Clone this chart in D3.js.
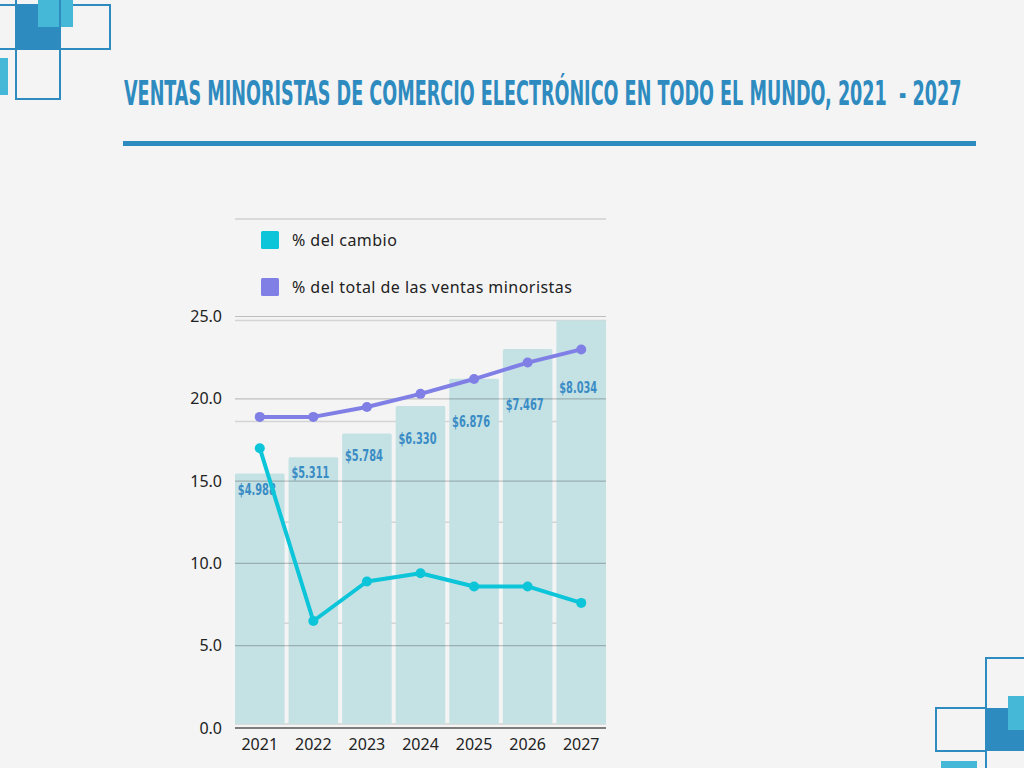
<!DOCTYPE html>
<html>
<head>
<meta charset="utf-8">
<script src="https://cdn.jsdelivr.net/npm/d3@7"></script>
<style>
  body { margin: 0; background: #f4f4f4; }
  svg { display: block; }
</style>
</head>
<body>
<div id="chart"></div>
<script>
const years = ['2021', '2022', '2023', '2024', '2025', '2026', '2027']
const sales = [4.988, 5.311, 5.784, 6.330, 6.876, 7.467, 8.034]
const salesLabels = ['$4.988', '$5.311', '$5.784', '$6.330', '$6.876', '$7.467', '$8.034']
const pctChange = [17.0, 6.5, 8.9, 9.4, 8.6, 8.6, 7.6]
const pctTotal = [18.9, 18.9, 19.5, 20.3, 21.2, 22.2, 23.0]
const yTicks = [0, 5, 10, 15, 20, 25]
const legendItems = [
  { name: '% del cambio', color: '#0cc5d9' },
  { name: '% del total de las ventas minoristas', color: '#7f7fe6' }
]

const width = 1024
const height = 768
const blue = '#2e8bc0'
const cyan = '#45b8d8'
const narrow = '"Liberation Sans Narrow", "DejaVu Sans Condensed", sans-serif'

const svg = d3.select('#chart').append('svg')
  .attr('width', width)
  .attr('height', height)
  .style('background', '#f4f4f4')

// squeeze a text horizontally to a target width (keeps its real bbox)
function squeeze(sel, targetW) {
  sel.each(function () {
    const t = d3.select(this)
    const w = this.getComputedTextLength()
    const base = t.attr('transform') || ''
    t.attr('transform', `${base} scale(${targetW / w}, 1)`)
  })
}

// corner decorations
const deco = svg.append('g')
deco.append('rect').attr('x', -10).attr('y', 5).attr('width', 120).attr('height', 44)
  .attr('fill', 'none').attr('stroke', blue).attr('stroke-width', 2)
deco.append('rect').attr('x', 16).attr('y', 5).attr('width', 44).attr('height', 44).attr('fill', blue)
deco.append('rect').attr('x', 38).attr('y', -2).attr('width', 35).attr('height', 29).attr('fill', cyan)
deco.append('rect').attr('x', 16).attr('y', -10).attr('width', 44).attr('height', 109)
  .attr('fill', 'none').attr('stroke', blue).attr('stroke-width', 2)
deco.append('rect').attr('x', -2).attr('y', 58).attr('width', 10).attr('height', 37).attr('fill', cyan)

deco.append('rect').attr('x', 986).attr('y', 658).attr('width', 60).attr('height', 130)
  .attr('fill', 'none').attr('stroke', blue).attr('stroke-width', 2)
deco.append('rect').attr('x', 936).attr('y', 708).attr('width', 50).attr('height', 43)
  .attr('fill', 'none').attr('stroke', blue).attr('stroke-width', 2)
deco.append('rect').attr('x', 986).attr('y', 708).attr('width', 40).attr('height', 43).attr('fill', blue)
deco.append('rect').attr('x', 1008).attr('y', 696).attr('width', 20).attr('height', 34).attr('fill', cyan)
deco.append('rect').attr('x', 941).attr('y', 761).attr('width', 36).attr('height', 10).attr('fill', cyan)

// title
svg.append('text')
  .attr('transform', 'translate(124,105)')
  .style('font-family', narrow)
  .style('font-weight', 'bold')
  .style('font-size', '34px')
  .style('fill', blue)
  .style('white-space', 'pre')
  .text('VENTAS MINORISTAS DE COMERCIO ELECTRÓNICO EN TODO EL MUNDO, 2021  - 2027')
  .call(squeeze, 838)

svg.append('rect')
  .attr('x', 123).attr('y', 141).attr('width', 853).attr('height', 5)
  .attr('fill', blue)

// chart
const x = d3.scaleBand().domain(years).range([235, 606]).paddingInner(0.075).paddingOuter(0)
const y = d3.scaleLinear().domain([0, 25]).range([728, 316.5])
const ySales = d3.scaleLinear().domain([0, d3.max(sales)]).range([y(0) - 4, y(25) + 4])
const labelY = d3.scaleLinear().domain([0, years.length - 1]).range([14.5, 20.7])

const g = svg.append('g').style('font-family', '"Noto Sans", Inter, sans-serif')

// frame line above legend
g.append('line')
  .attr('x1', 235).attr('x2', 606).attr('y1', 219).attr('y2', 219)
  .attr('stroke', '#d0d0d0').attr('stroke-width', 1.5)

// bar chart grid (secondary scale), behind bars
g.selectAll('line.minor').data(d3.range(5).map(i => d3.max(sales) * i / 4)).enter()
  .append('line')
  .attr('class', 'minor')
  .attr('x1', 235).attr('x2', 606)
  .attr('y1', d => ySales(d)).attr('y2', d => ySales(d))
  .attr('stroke', '#d4d4d4').attr('stroke-width', 1.5)

// bars
g.selectAll('rect.bar').data(sales).enter()
  .append('rect')
  .attr('class', 'bar')
  .attr('x', (d, i) => x(years[i]))
  .attr('width', x.bandwidth())
  .attr('y', d => ySales(d))
  .attr('height', d => ySales(0) - ySales(d))
  .attr('rx', 1.5)
  .attr('fill', '#c4e1e4')

// major grid on top of bars
g.selectAll('line.major').data(yTicks).enter()
  .append('line')
  .attr('class', 'major')
  .attr('x1', 235).attr('x2', 606)
  .attr('y1', d => y(d)).attr('y2', d => y(d))
  .attr('stroke', d => d === 0 ? '#555' : 'rgba(0,0,0,0.22)')
  .attr('stroke-width', d => d === 0 ? 1.5 : 1.2)

// y tick labels
g.selectAll('text.ytick').data(yTicks).enter()
  .append('text')
  .attr('class', 'ytick')
  .attr('x', 222)
  .attr('y', d => y(d))
  .attr('dy', '0.35em')
  .attr('text-anchor', 'end')
  .style('font-size', '16px')
  .style('fill', '#222')
  .text(d => d3.format('.1f')(d))

// x labels
g.selectAll('text.xtick').data(years).enter()
  .append('text')
  .attr('class', 'xtick')
  .attr('x', d => x(d) + x.bandwidth() / 2)
  .attr('y', 750)
  .attr('text-anchor', 'middle')
  .style('font-size', '16px')
  .style('fill', '#222')
  .text(d => d)

// bar value labels
g.selectAll('text.val').data(salesLabels).enter()
  .append('text')
  .attr('class', 'val')
  .attr('transform', (d, i) => `translate(${x(years[i]) + x.bandwidth() / 2 - 3},${y(labelY(i))})`)
  .attr('dy', '0.35em')
  .attr('text-anchor', 'middle')
  .style('font-family', narrow)
  .style('font-weight', 'bold')
  .style('font-size', '16px')
  .style('fill', '#3a8cc4')
  .text(d => d)
  .call(squeeze, 38)

// lines
const cx = (d, i) => x(years[i]) + x.bandwidth() / 2
const line = d3.line().x(cx).y(d => y(d))

const series = [
  { values: pctTotal, color: legendItems[1].color },
  { values: pctChange, color: legendItems[0].color }
]

series.forEach(s => {
  g.append('path')
    .datum(s.values)
    .attr('d', line)
    .attr('fill', 'none')
    .attr('stroke', s.color)
    .attr('stroke-width', 4)
    .attr('stroke-linejoin', 'round')
  g.selectAll(null).data(s.values).enter()
    .append('circle')
    .attr('cx', cx)
    .attr('cy', d => y(d))
    .attr('r', 5)
    .attr('fill', s.color)
})

// legend
const lg = g.selectAll('g.legend').data(legendItems).enter()
  .append('g')
  .attr('class', 'legend')
  .attr('transform', (d, i) => `translate(261, ${231 + i * 47})`)

lg.append('rect')
  .attr('width', 18).attr('height', 18).attr('rx', 1.5)
  .attr('fill', d => d.color)

lg.append('text')
  .attr('x', 31)
  .attr('y', 9)
  .attr('dy', '0.35em')
  .style('font-size', '16px')
  .style('letter-spacing', '0.45px')
  .style('fill', '#222')
  .text(d => d.name)
</script>
</body>
</html>
